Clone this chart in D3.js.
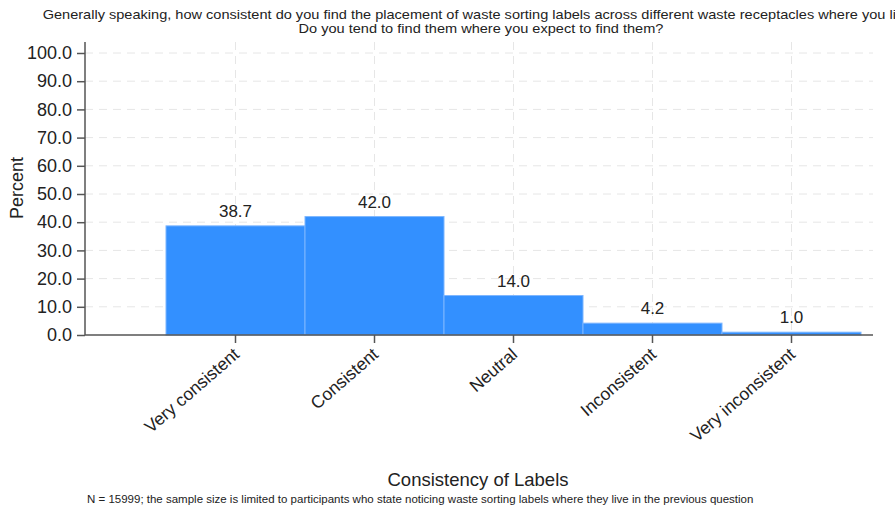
<!DOCTYPE html>
<html>
<head>
<meta charset="utf-8">
<script src="https://cdn.jsdelivr.net/npm/d3@7"></script>
<style>
  body { margin: 0; background: #fff; }
  svg { display: block; font-family: "Liberation Sans", Arial, sans-serif; }
</style>
</head>
<body>
<svg id="chart" width="895" height="511"></svg>
<script>
// Survey responses: share of participants per answer
const categories = ["Very consistent", "Consistent", "Neutral", "Inconsistent", "Very inconsistent"];
const percents = [38.7, 42.0, 14.0, 4.2, 1.0];
const yTicks = [0, 10, 20, 30, 40, 50, 60, 70, 80, 90, 100];

const titleLines = [
  "Generally speaking, how consistent do you find the placement of waste sorting labels across different waste receptacles where you live?",
  "Do you tend to find them where you expect to find them?"
];
const xTitle = "Consistency of Labels";
const yTitle = "Percent";
const footnote = "N = 15999; the sample size is limited to participants who state noticing waste sorting labels where they live in the previous question";

const svg = d3.select("#chart");

const plot = { left: 85, right: 873, top: 42, bottom: 335 };

const x = d3.scaleBand().domain(categories).range([166, 861]).paddingInner(0).paddingOuter(0);
const y = d3.scaleLinear().domain([0, 100]).range([plot.bottom, 53]);

// grid
const grid = svg.append("g").attr("stroke", "#e6e6e6").attr("stroke-dasharray", "8,6").attr("stroke-width", 1);
grid.selectAll("line.h").data(yTicks.filter(d => d > 0)).join("line")
  .attr("x1", plot.left).attr("x2", plot.right)
  .attr("y1", d => y(d)).attr("y2", d => y(d));
grid.selectAll("line.v").data(categories).join("line")
  .attr("x1", d => x(d) + x.bandwidth() / 2).attr("x2", d => x(d) + x.bandwidth() / 2)
  .attr("y1", plot.top).attr("y2", plot.bottom);

// bars
svg.append("g").selectAll("rect").data(categories).join("rect")
  .attr("x", d => x(d))
  .attr("y", (d, i) => y(percents[i]))
  .attr("width", x.bandwidth())
  .attr("height", (d, i) => y(0) - y(percents[i]))
  .attr("fill", "#3390ff")
  .attr("stroke", "#7db6ff")
  .attr("stroke-width", 1);

// value labels
svg.append("g").selectAll("text").data(categories).join("text")
  .attr("x", d => x(d) + x.bandwidth() / 2)
  .attr("y", (d, i) => y(percents[i]) - 9)
  .attr("text-anchor", "middle")
  .attr("font-size", 17)
  .attr("fill", "#222")
  .text((d, i) => percents[i].toFixed(1));

// y axis
const yAxis = svg.append("g").attr("transform", `translate(${plot.left},0)`)
  .call(d3.axisLeft(y).tickValues(yTicks).tickFormat(d3.format(".1f")).tickSize(8).tickPadding(5));
yAxis.select(".domain").attr("d", `M0,${plot.top}V${plot.bottom}`).attr("stroke", "#555").attr("stroke-width", 1.5);
yAxis.selectAll(".tick line").attr("stroke", "#555").attr("stroke-width", 1.5);
yAxis.selectAll(".tick text").attr("font-size", 18).attr("fill", "#222").attr("font-family", "Liberation Sans, Arial, sans-serif");

// x axis
const xAxis = svg.append("g").attr("transform", `translate(0,${plot.bottom})`)
  .call(d3.axisBottom(x).tickSize(8).tickPadding(3));
xAxis.select(".domain").attr("d", `M${plot.left},0H${plot.right}`).attr("stroke", "#555").attr("stroke-width", 1.5);
xAxis.selectAll(".tick line").attr("stroke", "#555").attr("stroke-width", 1.5);
xAxis.selectAll(".tick text")
  .attr("font-size", 17.5).attr("fill", "#222").attr("font-family", "Liberation Sans, Arial, sans-serif")
  .attr("text-anchor", "end")
  .attr("x", 0).attr("y", 0).attr("dy", 0)
  .attr("transform", "translate(5,21) rotate(-41)");

// titles
svg.append("g").selectAll("text").data(titleLines).join("text")
  .attr("transform", (d, i) => `translate(481,${19 + i * 14}) scale(1.12,1)`)
  .attr("text-anchor", "middle").attr("font-size", 13).attr("fill", "#222")
  .text(d => d);

svg.append("text")
  .attr("transform", "translate(23,188) rotate(-90)")
  .attr("text-anchor", "middle").attr("font-size", 18).attr("fill", "#222")
  .text(yTitle);

svg.append("text")
  .attr("x", 478).attr("y", 486)
  .attr("text-anchor", "middle").attr("font-size", 18.5).attr("fill", "#222")
  .text(xTitle);

svg.append("text")
  .attr("x", 87).attr("y", 503)
  .attr("font-size", 11.5).attr("fill", "#222")
  .text(footnote);
</script>
</body>
</html>
